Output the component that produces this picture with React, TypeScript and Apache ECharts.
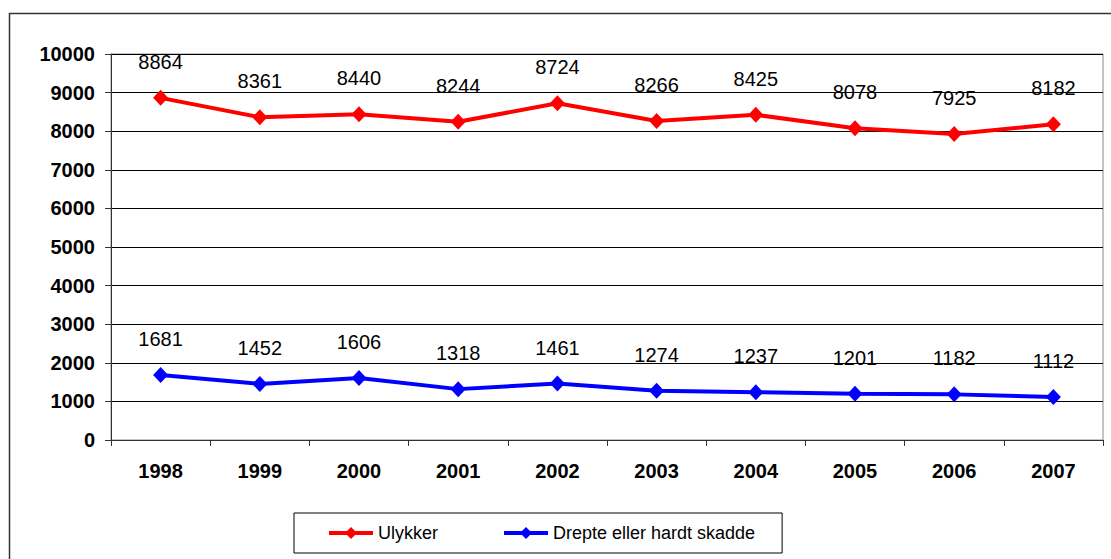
import React, { useEffect, useRef } from "react";
import * as echarts from "echarts";

const years = ["1998", "1999", "2000", "2001", "2002", "2003", "2004", "2005", "2006", "2007"];
const ulykker = [8864, 8361, 8440, 8244, 8724, 8266, 8425, 8078, 7925, 8182];
const drepte = [1681, 1452, 1606, 1318, 1461, 1274, 1237, 1201, 1182, 1112];
const seriesNames = ["Ulykker", "Drepte eller hardt skadde"];
const FONT = "Arial, 'Liberation Sans', sans-serif";

export default function App() {
  const ref = useRef<HTMLDivElement>(null);
  useEffect(() => {
    if (!ref.current) return;
    const chart = echarts.init(ref.current, null, { renderer: "svg" });
    const mkSeries = (name: string, data: number[], color: string) => ({
      name,
      type: "line",
      data,
      symbol: "diamond",
      symbolSize: [15, 16],
      itemStyle: { color },
      lineStyle: { color, width: 4 },
      label: {
        show: true,
        position: "top",
        distance: 18,
        color: "#000",
        fontFamily: FONT,
        fontSize: 20,
      },
    });
    chart.setOption({
      animation: false,
      backgroundColor: "#fff",
      grid: {
        left: 111,
        top: 54,
        right: 8,
        bottom: 119,
        show: true,
        borderColor: "#888",
        borderWidth: 1,
      },
      graphic: [
        {
          type: "rect",
          shape: { x: 9.5, y: 13.5, width: 1200, height: 700 },
          style: { fill: "none", stroke: "#333", lineWidth: 1.5 },
          silent: true,
        },
      ],
      legend: {
        data: seriesNames,
        left: 294,
        top: 513,
        padding: [11, 27, 11, 33],
        itemGap: 64,
        itemWidth: 44,
        itemHeight: 15,
        lineStyle: { width: 4 },
        borderColor: "#000",
        borderWidth: 1,
        textStyle: { fontFamily: FONT, fontSize: 18, color: "#000" },
      },
      xAxis: {
        type: "category",
        data: years,
        boundaryGap: true,
        axisLine: { lineStyle: { color: "#333", width: 1 } },
        axisTick: { show: true, length: 6, alignWithLabel: false, lineStyle: { color: "#333" } },
        axisLabel: {
          margin: 21,
          color: "#000",
          fontFamily: FONT,
          fontSize: 20,
          fontWeight: "bold",
        },
      },
      yAxis: {
        type: "value",
        min: 0,
        max: 10000,
        interval: 1000,
        axisLine: { show: true, lineStyle: { color: "#333", width: 1 } },
        axisTick: { show: true, length: 6, lineStyle: { color: "#333" } },
        splitLine: { show: true, lineStyle: { color: "#000", width: 1 } },
        axisLabel: {
          margin: 16,
          color: "#000",
          fontFamily: FONT,
          fontSize: 20,
          fontWeight: "bold",
          formatter: (v: number) => String(v),
        },
      },
      series: [
        mkSeries(seriesNames[0], ulykker, "#ff0000"),
        mkSeries(seriesNames[1], drepte, "#0000ff"),
      ],
    });
    return () => chart.dispose();
  }, []);
  return (
    <div
      ref={ref}
      style={{ position: "fixed", left: 0, top: 0, width: 1111, height: 559 }}
    />
  );
}
